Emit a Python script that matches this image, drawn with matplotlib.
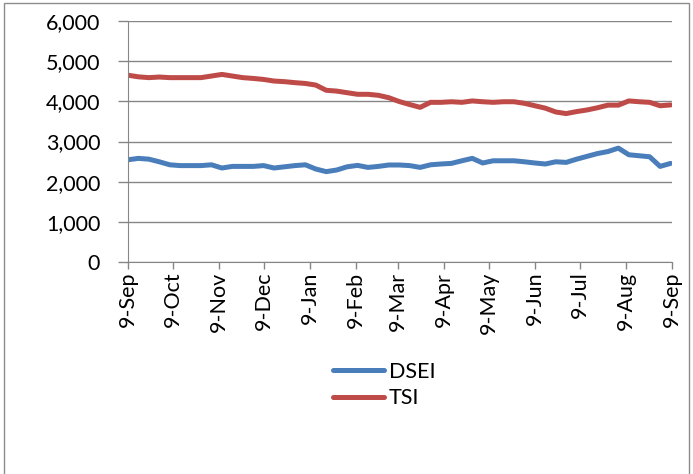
import matplotlib.pyplot as plt
import matplotlib.dates as mdates
import matplotlib.ticker as mticker
import pandas as pd
from matplotlib.patches import Rectangle

# weekly closes, 9-Sep to 9-Sep
dates = pd.date_range('2012-09-09', periods=53, freq='7D')
dsei = [2545, 2580, 2560, 2495, 2420, 2400, 2400, 2400, 2420, 2340,
        2380, 2380, 2380, 2400, 2340, 2370, 2400, 2420, 2315, 2250,
        2290, 2370, 2405, 2355, 2380, 2415, 2415, 2400, 2355, 2420,
        2440, 2455, 2520, 2580, 2465, 2520, 2520, 2520, 2495, 2465,
        2440, 2495, 2480, 2560, 2630, 2700, 2750, 2835, 2670, 2645,
        2620, 2380, 2455]
tsi = [4650, 4610, 4590, 4605, 4590, 4590, 4590, 4590, 4630, 4670,
       4630, 4590, 4570, 4545, 4505, 4490, 4465, 4445, 4405, 4275,
       4255, 4215, 4175, 4175, 4150, 4090, 3995, 3920, 3850, 3975,
       3975, 3990, 3975, 4010, 3990, 3975, 3990, 3990, 3950, 3890,
       3830, 3735, 3695, 3745, 3785, 3840, 3905, 3905, 4010, 3990,
       3975, 3890, 3910]
tick_dates = pd.to_datetime(['2012-09-09', '2012-10-09', '2012-11-09', '2012-12-09',
                             '2013-01-09', '2013-02-09', '2013-03-09', '2013-04-09',
                             '2013-05-09', '2013-06-09', '2013-07-09', '2013-08-09',
                             '2013-09-09'])

plt.rcParams['font.family'] = ['Lato', 'DejaVu Sans']

fig = plt.figure(figsize=(6.93, 4.74), dpi=100)
fig.patches.append(Rectangle((4 / 693, -0.01), 685 / 693, 1 - 3 / 474 + 0.01,
                             transform=fig.transFigure, fill=False,
                             edgecolor='#8c8c8c', lw=1))
ax = fig.add_axes([128 / 693, 212 / 474, 544 / 693, 241 / 474])

ax.plot(dates, dsei, color='#4A7EBB', lw=3.6, solid_capstyle='round', label='DSEI')
ax.plot(dates, tsi, color='#BE4B48', lw=3.6, solid_capstyle='round', label='TSI')

ax.set_ylim(0, 6000)
ax.set_xlim(tick_dates[0], tick_dates[-1])
ax.yaxis.set_major_locator(mticker.MultipleLocator(1000))
ax.yaxis.set_major_formatter(mticker.StrMethodFormatter('{x:,.0f}'))
ax.set_xticks(tick_dates)
ax.xaxis.set_major_formatter(mdates.DateFormatter('%-d-%b'))
ax.grid(axis='y', color='#868686', lw=1)
ax.set_axisbelow(True)
for s in ['top', 'right']:
    ax.spines[s].set_visible(False)
for s in ['left', 'bottom']:
    ax.spines[s].set_color('#868686')
ax.tick_params(axis='both', colors='#868686', width=1, labelcolor='black',
               labelsize=15.5)
ax.tick_params(axis='y', length=7, pad=13)
ax.tick_params(axis='x', length=5, pad=2)
plt.setp(ax.get_xticklabels(), rotation=90)

ax.legend(loc='center', bbox_to_anchor=(384 / 693, 89 / 474),
          bbox_transform=fig.transFigure, frameon=False, fontsize=15.5,
          handlelength=2.4, handletextpad=0.2, labelspacing=0.3)

fig.savefig('out.png', dpi=100)
